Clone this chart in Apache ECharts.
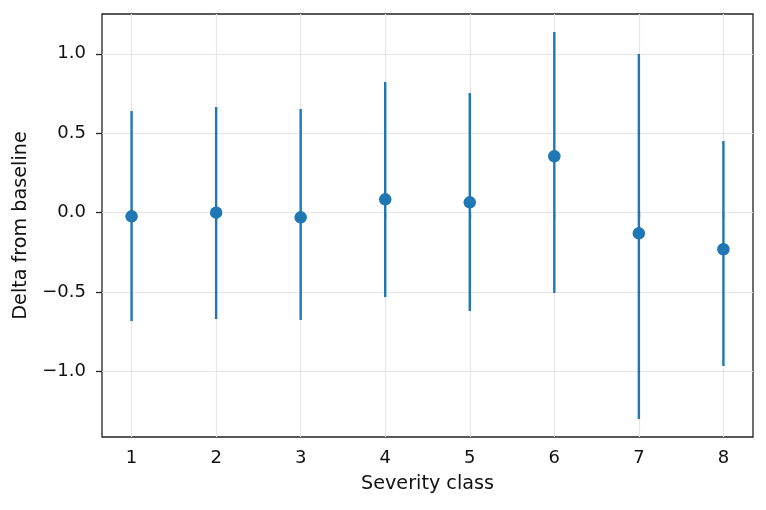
<!DOCTYPE html>
<html><head><meta charset="utf-8">
<script src="https://cdn.jsdelivr.net/npm/echarts@6/dist/echarts.min.js"></script>
<style>html,body{margin:0;padding:0;background:#fff}#c{width:766px;height:510px}</style>
</head><body><div id="c"></div>
<script>
const categories = [1, 2, 3, 4, 5, 6, 7, 8];
const means = [-0.023, 0.0, -0.029, 0.084, 0.065, 0.355, -0.130, -0.230];
const upper = [0.640, 0.665, 0.653, 0.823, 0.753, 1.137, 0.999, 0.451];
const lower = [-0.682, -0.669, -0.675, -0.531, -0.619, -0.505, -1.298, -0.965];
const yTicks = [-1.0, -0.5, 0.0, 0.5, 1.0];

const chart = echarts.init(document.getElementById('c'), null, {renderer: 'canvas'});
const fmt = v => (v < 0 ? '\u2212' : '') + Math.abs(v).toFixed(1);
const font = 'DejaVu Sans';
const fs = 18;
const nfs = 19.2;
chart.setOption({
  animation: false,
  grid: {left: 102, top: 14, width: 651, height: 423, show: true, borderColor: '#222', borderWidth: 1.3, backgroundColor: 'transparent'},
  xAxis: {
    type: 'value', min: 0.65, max: 8.35, splitNumber: 8,
    axisLine: {show: false},
    axisTick: {show: true, length: 6, lineStyle: {color: '#222', width: 1.3}, customValues: categories},
    axisLabel: {color: '#111', fontFamily: font, fontSize: fs, margin: 12, customValues: categories, formatter: v => String(v)},
    splitLine: {show: true, lineStyle: {color: '#e6e6e6', width: 1.2}},
    name: 'Severity class', nameLocation: 'middle', nameGap: 38,
    nameTextStyle: {color: '#111', fontFamily: font, fontSize: nfs}
  },
  yAxis: {
    type: 'value', min: -1.4116, max: 1.2505, splitNumber: 5,
    axisLine: {show: false},
    axisTick: {show: true, length: 6, lineStyle: {color: '#222', width: 1.3}, customValues: yTicks},
    axisLabel: {color: '#111', fontFamily: font, fontSize: fs, margin: 16, padding: [4, 0, 0, 0], customValues: yTicks, formatter: fmt},
    splitLine: {show: true, lineStyle: {color: '#e6e6e6', width: 1.2}},
    name: 'Delta from baseline', nameLocation: 'middle', nameGap: 71, nameRotate: 90,
    nameTextStyle: {color: '#111', fontFamily: font, fontSize: nfs}
  },
  series: [
    {
      type: 'custom',
      data: categories.map((c, i) => [c, lower[i], upper[i]]),
      renderItem: function (params, api) {
        const p1 = api.coord([api.value(0), api.value(1)]);
        const p2 = api.coord([api.value(0), api.value(2)]);
        return {type: 'line', shape: {x1: p1[0], y1: p1[1], x2: p2[0], y2: p2[1]},
                style: {stroke: '#1f77b4', lineWidth: 2.4}};
      },
      z: 2
    },
    {
      type: 'scatter',
      data: categories.map((c, i) => [c, means[i]]),
      symbol: 'circle', symbolSize: 12.5,
      itemStyle: {color: '#1f77b4', opacity: 1},
      z: 3
    }
  ]
});
</script></body></html>
